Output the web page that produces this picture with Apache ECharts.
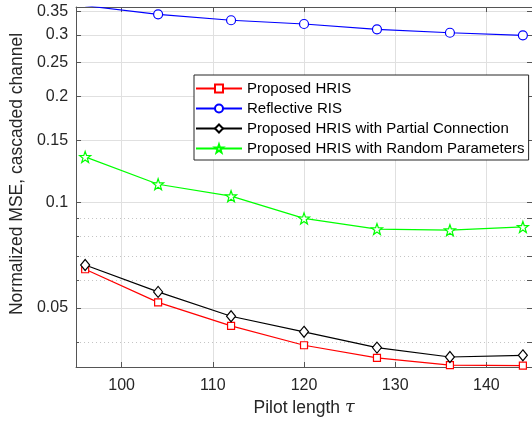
<!DOCTYPE html>
<html><head><meta charset="utf-8">
<script src="https://cdn.jsdelivr.net/npm/echarts@6/dist/echarts.min.js"></script>
<style>html,body{margin:0;padding:0;background:#fff}#c{width:532px;height:424px}</style>
</head><body><div id="c"></div>
<script>
const pilotLength = [96, 104, 112, 120, 128, 136, 144];
const proposedHRIS = [0.0644, 0.0518, 0.0444, 0.0391, 0.0360, 0.0343, 0.0342];
const reflectiveRIS = [0.363, 0.343, 0.330, 0.322, 0.311, 0.304, 0.299];
const partialConnection = [0.0662, 0.0555, 0.0473, 0.0427, 0.0385, 0.0362, 0.0366];
const randomParameters = [0.1346, 0.1125, 0.104, 0.0899, 0.0838, 0.0832, 0.085];
const seriesNames = ['Proposed HRIS', 'Reflective RIS', 'Proposed HRIS with Partial Connection', 'Proposed HRIS with Random Parameters'];
const xTicks = [100, 110, 120, 130, 140];
const yTicks = [0.05, 0.1, 0.15, 0.2, 0.25, 0.3, 0.35];
const yMinorTicks = [0.04, 0.06, 0.07, 0.08, 0.09];

const YMIN = 0.0339, YMAX = 0.36;
const FONT = '"Liberation Sans", Arial, sans-serif';
const STAR = 'path://M0,-10 L2.35,-3.24 L9.51,-3.09 L3.8,1.24 L5.88,8.09 L0,4 L-5.88,8.09 L-3.8,1.24 L-9.51,-3.09 L-2.35,-3.24 Z';

function pairs(vals) { return pilotLength.map((x, i) => [x, vals[i]]); }
function mk(name, vals, color, symbol, size) {
  return {
    name, type: 'line', data: pairs(vals), xAxisIndex: 0, yAxisIndex: 0,
    symbol, symbolSize: size, showSymbol: true,
    lineStyle: { color, width: 1.2 },
    itemStyle: { color: '#fff', borderColor: color, borderWidth: 1.2 },
    emphasis: { disabled: true }, z: 5
  };
}
const fmt = v => String(parseFloat(Number(v).toPrecision(6)));

const chart = echarts.init(document.getElementById('c'), null, { renderer: 'canvas' });
chart.setOption({
  animation: false,
  backgroundColor: '#fff',
  textStyle: { fontFamily: FONT },
  grid: { left: 72, top: 7, width: 462, height: 360, containLabel: false },
  legend: {
    orient: 'vertical', left: 194, top: 75,
    data: seriesNames,
    itemWidth: 46, itemHeight: 10, itemGap: 5,
    padding: [6, 4, 4, 1],
    borderColor: '#262626', borderWidth: 1, backgroundColor: '#fff',
    textStyle: { fontSize: 15, color: '#000', fontFamily: FONT },
    selectedMode: false
  },
  xAxis: [{
    type: 'value', min: 95, max: 145, position: 'bottom',
    axisLine: { show: true, onZero: false, lineStyle: { color: '#555', width: 1 } },
    axisTick: { show: true, inside: true, length: 5, customValues: xTicks, lineStyle: { color: '#555' } },
    axisLabel: { customValues: xTicks, fontSize: 16, color: '#262626', margin: 11, fontFamily: FONT },
    splitLine: { show: true, lineStyle: { color: '#e0e0e0', width: 1 } },
    name: 'Pilot length {i|τ}', nameLocation: 'middle', nameGap: 31,
    nameTextStyle: { fontSize: 17.5, color: '#262626', fontFamily: FONT,
      rich: { i: { fontStyle: 'italic', fontSize: 17.5, fontFamily: '"DejaVu Serif", serif', color: '#262626' } } }
  }, {
    type: 'value', min: 95, max: 145, position: 'top',
    axisLine: { show: true, onZero: false, lineStyle: { color: '#555', width: 1 } },
    axisTick: { show: true, inside: true, length: 5, customValues: xTicks, lineStyle: { color: '#555' } },
    axisLabel: { show: false }, splitLine: { show: false }
  }],
  yAxis: [{
    type: 'log', logBase: 10, min: YMIN, max: YMAX, position: 'left',
    axisLine: { show: true, onZero: false, lineStyle: { color: '#555', width: 1 } },
    axisTick: { show: true, inside: true, length: 5, customValues: yTicks, lineStyle: { color: '#555' } },
    axisLabel: { customValues: yTicks, fontSize: 16, color: '#262626', margin: 8, fontFamily: FONT, formatter: fmt },
    splitLine: { show: true, lineStyle: { color: '#e0e0e0', width: 1 } },
    minorTick: { show: false }, minorSplitLine: { show: false },
    name: 'Normalized MSE, cascaded channel', nameLocation: 'middle', nameGap: 44,
    nameTextStyle: { fontSize: 17.5, color: '#262626', fontFamily: FONT, padding: [0, 0, 0, 26] }
  }, {
    type: 'log', logBase: 10, min: YMIN, max: YMAX, position: 'left',
    axisLine: { show: false },
    axisTick: { show: true, inside: true, length: 3, customValues: yMinorTicks, lineStyle: { color: '#555' } },
    axisLabel: { show: false },
    splitLine: { show: true, lineStyle: { color: '#c4c4c4', width: 1, type: [1, 3] } }
  }, {
    type: 'log', logBase: 10, min: YMIN, max: YMAX, position: 'right',
    axisLine: { show: true, onZero: false, lineStyle: { color: '#555', width: 1 } },
    axisTick: { show: true, inside: true, length: 5, customValues: yTicks.concat(yMinorTicks), lineStyle: { color: '#555' } },
    axisLabel: { show: false }, splitLine: { show: false }
  }],
  series: [
    mk(seriesNames[0], proposedHRIS, '#ff0000', 'rect', 7),
    mk(seriesNames[1], reflectiveRIS, '#0000ff', 'circle', 9),
    mk(seriesNames[2], partialConnection, '#000000', 'diamond', [9, 11]),
    mk(seriesNames[3], randomParameters, '#00ff00', STAR, 11)
  ]
});
</script></body></html>
